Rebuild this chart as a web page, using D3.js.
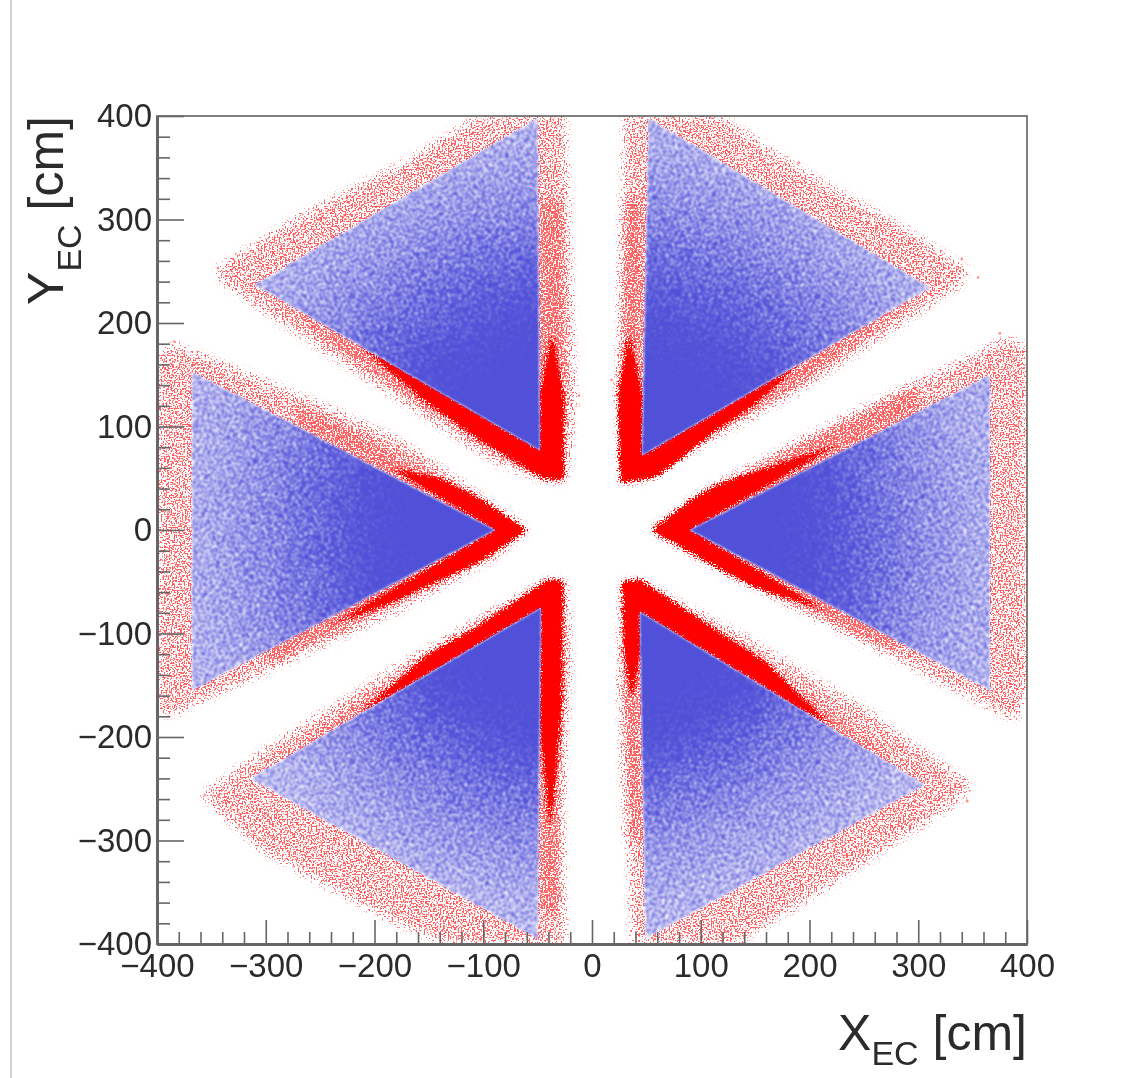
<!DOCTYPE html>
<html>
<head>
<meta charset="utf-8">
<style>
  html, body { margin: 0; padding: 0; background: #fff; }
  svg { display: block; filter: blur(0.5px); }
  text { font-family: "Liberation Sans", Arial, sans-serif; fill: #2b2b2b; }
  .tick text { font-size: 33px; fill: #2b2b2b; }
</style>
</head>
<body>
<div class="chart"></div>
<script src="https://cdn.jsdelivr.net/npm/d3@7"></script>
<script>
// Values, in cm. Each sector: UR, UL, L, LL, LR, R
var majorTicks = [-400, -300, -200, -100, 0, 100, 200, 300, 400];
var minorTicks = [-380, -360, -340, -320, -280, -260, -240, -220, -180, -160, -140, -120,
  -80, -60, -40, -20, 20, 40, 60, 80, 120, 140, 160, 180, 220, 240, 260, 280, 320, 340, 360, 380];

// Blue accepted region, one triangle per sector
var blueUR = [[46, 72], [52, 398], [311, 234]];
var blueUL = [[-48, 77], [-50, 398], [-310, 237]];
var blueL = [[-89, 0], [-368, 153], [-368, -155]];
var blueLL = [[-47, -75], [-50, -395], [-314, -240]];
var blueLR = [[44, -79], [49, -395], [306, -246]];
var blueR = [[90, 0], [366, 150], [366, -155]];

// Blue point density against distance from the centre
var densityRadii = [0, 150, 200, 250, 300, 350, 420];
var densityUR = [1, 1, 0.92, 0.75, 0.6, 0.5, 0.44];
var densityUL = [1, 1, 0.94, 0.76, 0.6, 0.5, 0.44];
var densityL = [1, 1, 0.94, 0.75, 0.6, 0.5, 0.45];
var densityLL = [1, 1, 0.92, 0.72, 0.57, 0.47, 0.41];
var densityLR = [1, 1, 0.92, 0.7, 0.55, 0.47, 0.41];
var densityR = [1, 1, 0.94, 0.76, 0.6, 0.5, 0.45];

// Sparse red halo outlines
var haloUR = [[28, 46], [24, 126], [28, 270], [30, 400], [118, 400], [191, 348], [283, 295], [346, 251], [338, 237], [283, 198], [191, 135], [99, 82], [44, 46]];
var haloUL = [[-24, 48], [-16, 126], [-25, 400], [-103, 400], [-177, 353], [-268, 304], [-347, 251], [-337, 237], [-268, 188], [-177, 126], [-85, 63], [-43, 48]];
var haloL = [[-60, 0], [-103, 34], [-177, 87], [-268, 130], [-383, 179], [-400, 169], [-400, -174], [-388, -179], [-268, -121], [-177, -77], [-85, -24]];
var haloLL = [[-25, -50], [-43, -50], [-177, -130], [-290, -205], [-359, -256], [-305, -309], [-177, -382], [-131, -400], [-25, -400], [-29, -261], [-20, -116]];
var haloLR = [[28, -53], [44, -50], [145, -106], [246, -169], [348, -246], [338, -261], [191, -362], [131, -400], [37, -400], [33, -261], [26, -116]];
var haloR = [[55, 0], [99, 34], [191, 87], [283, 135], [380, 184], [400, 179], [400, -155], [389, -184], [283, -126], [191, -77], [99, -26]];

// Denser pink zone next to the blue edges, between halo and solid band
var shoulderUR = [[28, 320], [46, 320], [46, 72], [130, 122], [311, 234], [205, 150], [111, 90], [44, 50], [24, 120]];
var shoulderUL = [[-28, 320], [-48, 320], [-48, 77], [-130, 127], [-310, 237], [-205, 155], [-103, 85], [-44, 50], [-24, 120]];
var shoulderL = [[-60, 0], [-103, 30], [-270, 122], [-270, 100], [-89, 0], [-300, -115], [-300, -132], [-103, -30]];
var shoulderLL = [[-25, -50], [-43, -50], [-103, -90], [-314, -240], [-222, -183], [-47, -75], [-47, -370], [-30, -370], [-24, -150]];
var shoulderLR = [[28, -50], [44, -48], [118, -98], [306, -246], [219, -190], [44, -79], [44, -300], [30, -300], [26, -150]];
var shoulderR = [[55, 0], [118, 45], [300, 140], [300, 115], [90, 0], [280, -103], [280, -120], [118, -38]];

// Solid red bands around the inner corners
var coreUR = [[26, 46], [24, 130], [34, 190], [46, 130], [46, 72], [190, 160], [150, 122], [111, 94], [60, 52]];
var coreUL = [[-26, 48], [-26, 130], [-37, 190], [-48, 130], [-48, 77], [-215, 180], [-150, 122], [-103, 87], [-45, 50]];
var coreL = [[-60, 0], [-103, 30], [-140, 50], [-185, 60], [-89, 0], [-240, -92], [-180, -68], [-103, -30]];
var coreLL = [[-27, -50], [-40, -48], [-103, -92], [-150, -120], [-215, -178], [-47, -75], [-47, -200], [-38, -290], [-28, -170]];
var coreLR = [[28, -50], [44, -48], [118, -100], [160, -128], [220, -190], [44, -79], [44, -120], [37, -165], [30, -120]];
var coreR = [[55, 0], [93, 30], [118, 45], [225, 82], [90, 0], [215, -78], [150, -55], [118, -38]];

// Isolated points outside the halos
var strayX = [-344, 355, -356, 345, -384, -22, 375, 402, -330, 340, -250, 190, -12, 18];
var strayY = [253, 244, -256, -262, 182, 160, 190, -120, 262, 262, 300, 355, 130, 145];

var svgWidth = 1132;
var svgHeight = 1078;
var margin = { top: 116, right: 105, bottom: 134, left: 157 };

var xScale = d3.scaleLinear().domain([-400, 400]).range([margin.left, svgWidth - margin.right]);
var yScale = d3.scaleLinear().domain([-400, 400]).range([svgHeight - margin.bottom, margin.top]);

var svg = d3.select(".chart").append("svg")
  .attr("width", svgWidth)
  .attr("height", svgHeight);
var defs = svg.append("defs");

defs.append("clipPath").attr("id", "plotClip").append("rect")
  .attr("x", margin.left).attr("y", margin.top)
  .attr("width", svgWidth - margin.left - margin.right)
  .attr("height", svgHeight - margin.top - margin.bottom);

// Turns the alpha of what is drawn into a grain of dots, so it looks like a dense scatter.
// gain/offset set how hard the dots are
function addGrain(id, color, spread, freq, seed, gain, noiseGain, offset, soft) {
  var f = defs.append("filter").attr("id", id)
    .attr("filterUnits", "userSpaceOnUse")
    .attr("x", 0).attr("y", 0).attr("width", svgWidth).attr("height", svgHeight)
    .attr("color-interpolation-filters", "sRGB");
  f.append("feGaussianBlur").attr("in", "SourceAlpha").attr("stdDeviation", spread).attr("result", "d");
  f.append("feTurbulence").attr("type", "fractalNoise").attr("baseFrequency", freq)
    .attr("numOctaves", 1).attr("seed", seed).attr("result", "raw");
  f.append("feColorMatrix").attr("in", "raw").attr("type", "matrix")
    .attr("values", "0 0 0 0 0  0 0 0 0 0  0 0 0 0 0  0 0 0 3 -1").attr("result", "n");
  f.append("feComposite").attr("in", "d").attr("in2", "n").attr("operator", "arithmetic")
    .attr("k1", 0).attr("k2", gain).attr("k3", noiseGain).attr("k4", offset).attr("result", "dots");
  f.append("feFlood").attr("flood-color", color).attr("result", "ink");
  f.append("feComposite").attr("in", "ink").attr("in2", "dots").attr("operator", "in").attr("result", "out");
  f.append("feGaussianBlur").attr("in", "out").attr("stdDeviation", soft);
}
addGrain("grainHalo", "#ff0000", 5, 0.62, 4, 8, 6, -6, 0.5);
addGrain("grainCore", "#ff0000", 2.5, 0.7, 7, 8, 6, -6, 0.6);
addGrain("grainBlue", "#5050d8", 0, 0.55, 9, 4, 3, -3, 0.8);

var toPoints = function(poly) {
  return poly.map(function(p) { return xScale(p[0]) + "," + yScale(p[1]); }).join(" ");
};

var plot = svg.append("g").attr("clip-path", "url(#plotClip)");

// Red halos first, blue goes on top of them
var haloLayer = plot.append("g").attr("filter", "url(#grainHalo)").attr("opacity", 0.62);
haloLayer.selectAll(".halo")
  .data([haloUR, haloUL, haloL, haloLL, haloLR, haloR])
  .enter().append("polygon")
  .attr("class", "halo")
  .attr("points", toPoints)
  .attr("fill", "#000")
  .attr("fill-opacity", 0.37);
haloLayer.selectAll(".shoulder")
  .data([shoulderUR, shoulderUL, shoulderL, shoulderLL, shoulderLR, shoulderR])
  .enter().append("polygon")
  .attr("class", "shoulder")
  .attr("points", toPoints)
  .attr("fill", "#000")
  .attr("fill-opacity", 0.3);

plot.append("g").attr("filter", "url(#grainCore)")
  .selectAll("polygon")
  .data([coreUR, coreUL, coreL, coreLL, coreLR, coreR])
  .enter().append("polygon")
  .attr("points", toPoints)
  .attr("fill", "#000");

var strays = strayX.map(function(x, i) { return [x, strayY[i]]; });
plot.selectAll(".stray")
  .data(strays)
  .enter().append("circle")
  .attr("class", "stray")
  .attr("cx", function(d) { return xScale(d[0]); })
  .attr("cy", function(d) { return yScale(d[1]); })
  .attr("r", 1.3)
  .attr("fill", "#ff0000")
  .attr("fill-opacity", 0.45);

// One radial density gradient per blue sector
var blues = [
  { poly: blueUR, density: densityUR },
  { poly: blueUL, density: densityUL },
  { poly: blueL, density: densityL },
  { poly: blueLL, density: densityLL },
  { poly: blueLR, density: densityLR },
  { poly: blueR, density: densityR }
];
var maxRadius = densityRadii[densityRadii.length - 1];

blues.forEach(function(sector, i) {
  var grad = defs.append("radialGradient").attr("id", "density" + i)
    .attr("gradientUnits", "userSpaceOnUse")
    .attr("cx", xScale(0)).attr("cy", yScale(0))
    .attr("r", xScale(maxRadius) - xScale(0));
  densityRadii.forEach(function(r, j) {
    grad.append("stop")
      .attr("offset", r / maxRadius)
      .attr("stop-color", "#000")
      .attr("stop-opacity", sector.density[j]);
  });
});

// White under the blue so the halo does not show through the gaps
plot.append("g").selectAll("polygon")
  .data(blues)
  .enter().append("polygon")
  .attr("points", function(d) { return toPoints(d.poly); })
  .attr("fill", "#fff");

plot.append("g").attr("filter", "url(#grainBlue)")
  .selectAll("polygon")
  .data(blues)
  .enter().append("polygon")
  .attr("points", function(d) { return toPoints(d.poly); })
  .attr("fill", function(d, i) { return "url(#density" + i + ")"; });

// Frame
svg.append("rect")
  .attr("x", margin.left).attr("y", margin.top)
  .attr("width", svgWidth - margin.left - margin.right)
  .attr("height", svgHeight - margin.top - margin.bottom)
  .attr("fill", "none")
  .attr("stroke", "#555")
  .attr("stroke-width", 1.5);

// Axes, ticks point into the plot
var axisColor = "#666";
function styleAxis(g) {
  g.selectAll("path").attr("stroke", axisColor).attr("stroke-width", 3);
  g.selectAll("line").attr("stroke", axisColor).attr("stroke-width", 1.6);
}
var xBase = svgHeight - margin.bottom;

svg.append("g").attr("transform", "translate(0," + xBase + ")")
  .call(d3.axisBottom(xScale).tickValues(minorTicks).tickSize(-12).tickSizeOuter(0).tickFormat(""))
  .call(styleAxis);
svg.append("g").attr("transform", "translate(0," + xBase + ")")
  .call(d3.axisBottom(xScale).tickValues(majorTicks).tickSize(-24).tickSizeOuter(0).tickPadding(10))
  .call(styleAxis);
svg.append("g").attr("transform", "translate(" + margin.left + ",0)")
  .call(d3.axisLeft(yScale).tickValues(minorTicks).tickSize(-13).tickSizeOuter(0).tickFormat(""))
  .call(styleAxis);
svg.append("g").attr("transform", "translate(" + margin.left + ",0)")
  .call(d3.axisLeft(yScale).tickValues(majorTicks).tickSize(-27).tickSizeOuter(0).tickPadding(5))
  .call(styleAxis);

// Axis titles
var xTitle = svg.append("text")
  .attr("x", xScale(400)).attr("y", 1050)
  .attr("text-anchor", "end")
  .attr("font-size", 50);
xTitle.append("tspan").text("X");
xTitle.append("tspan").attr("font-size", 34).attr("dy", 15).text("EC");
xTitle.append("tspan").attr("dy", -15).text(" [cm]");

var yTitle = svg.append("text")
  .attr("transform", "translate(63," + margin.top + ") rotate(-90)")
  .attr("text-anchor", "end")
  .attr("font-size", 50);
yTitle.append("tspan").text("Y");
yTitle.append("tspan").attr("font-size", 34).attr("dy", 18).text("EC");
yTitle.append("tspan").attr("dy", -18).text(" [cm]");

// Grey page edge on the left of the figure
svg.append("line")
  .attr("x1", 11).attr("x2", 11)
  .attr("y1", 0).attr("y2", svgHeight)
  .attr("stroke", "#d2d2d2")
  .attr("stroke-width", 2);
</script>
</body>
</html>
